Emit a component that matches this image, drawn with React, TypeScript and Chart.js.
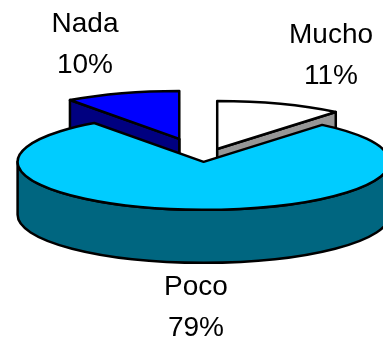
import { useEffect, useRef } from "react";
import { Chart, registerables } from "chart.js";

Chart.register(...registerables);

const categories = ["Mucho", "Poco", "Nada"];
const shares = [11, 79, 10];
const explode = [39, 13, 80];
const topColors = ["#FFFFFF", "#00CCFF", "#0000FF"];
const sideColors = ["#969696", "#006680", "#000080"];

// Canvas position of each slice's two-line caption (centre x, first baseline).
const captionSpots = [
  { x: 331, y: 43 },
  { x: 196, y: 295 },
  { x: 85, y: 32 },
];

const PIE_RADIUS = 186;
const TILT = 0.258;
const DEPTH = 53;
const OUTLINE = 2.5;
const CAPTION_FONT = '28px "Liberation Sans", Arial, sans-serif';
const CAPTION_LEADING = 41;

type Slice = {
  index: number;
  cx: number;
  cy: number;
  r: number;
  a0: number;
  a1: number;
};

// Outer wall of a wedge, limited to the part of the rim that faces the viewer.
function rimBand(ctx: CanvasRenderingContext2D, s: Slice, from: number, to: number) {
  ctx.beginPath();
  ctx.ellipse(s.cx, s.cy, s.r, s.r * TILT, 0, from, to);
  ctx.ellipse(s.cx, s.cy + DEPTH, s.r, s.r * TILT, 0, to, from, true);
  ctx.closePath();
}

function cutFace(ctx: CanvasRenderingContext2D, s: Slice, angle: number) {
  const tx = s.cx + s.r * Math.cos(angle);
  const ty = s.cy + s.r * TILT * Math.sin(angle);
  ctx.beginPath();
  ctx.moveTo(s.cx, s.cy);
  ctx.lineTo(tx, ty);
  ctx.lineTo(tx, ty + DEPTH);
  ctx.lineTo(s.cx, s.cy + DEPTH);
  ctx.closePath();
}

function topFace(ctx: CanvasRenderingContext2D, s: Slice) {
  ctx.beginPath();
  ctx.moveTo(s.cx, s.cy);
  ctx.ellipse(s.cx, s.cy, s.r, s.r * TILT, 0, s.a0, s.a1);
  ctx.closePath();
}

// Replaces the flat arcs with tilted, extruded wedges built from the arc elements.
const tiltedPie = {
  id: "tiltedPie",
  beforeDatasetDraw(chart: Chart) {
    const ctx = chart.ctx;
    const arcs = chart.getDatasetMeta(0).data as any[];
    const slices: Slice[] = arcs.map((arc, index) => {
      const mid = (arc.startAngle + arc.endAngle) / 2;
      const shift = arc.options.offset || 0;
      return {
        index,
        cx: arc.x + Math.cos(mid) * shift,
        cy: arc.y + Math.sin(mid) * shift * TILT,
        r: arc.outerRadius,
        a0: arc.startAngle,
        a1: arc.endAngle,
      };
    });
    const depthOrder = (s: Slice) => Math.sin((s.a0 + s.a1) / 2);
    slices.sort((a, b) => depthOrder(a) - depthOrder(b));

    ctx.save();
    ctx.lineWidth = OUTLINE;
    ctx.lineJoin = "round";
    ctx.strokeStyle = "#000000";
    for (const s of slices) {
      ctx.fillStyle = sideColors[s.index];
      const from = Math.max(s.a0, 0);
      const to = Math.min(s.a1, Math.PI);
      if (to > from) {
        rimBand(ctx, s, from, to);
        ctx.fill();
        ctx.stroke();
      }
      // A cut face shows only when its outward normal points toward the viewer;
      // a face seen exactly edge-on reduces to one vertical line.
      for (const [angle, normal] of [
        [s.a0, s.a0 - Math.PI / 2],
        [s.a1, s.a1 + Math.PI / 2],
      ]) {
        const facing = Math.sin(normal);
        if (facing > 1e-6) {
          cutFace(ctx, s, angle);
          ctx.fill();
          ctx.stroke();
        } else if (Math.abs(facing) <= 1e-6) {
          ctx.beginPath();
          ctx.moveTo(s.cx, s.cy);
          ctx.lineTo(s.cx, s.cy + DEPTH);
          ctx.stroke();
        }
      }
      ctx.fillStyle = topColors[s.index];
      topFace(ctx, s);
      ctx.fill();
      ctx.stroke();
    }
    ctx.restore();
    return false;
  },
  afterDraw(chart: Chart) {
    const ctx = chart.ctx;
    ctx.save();
    ctx.font = CAPTION_FONT;
    ctx.fillStyle = "#000000";
    ctx.textAlign = "center";
    ctx.textBaseline = "alphabetic";
    categories.forEach((name, i) => {
      const spot = captionSpots[i];
      ctx.fillText(name, spot.x, spot.y);
      ctx.fillText(`${shares[i]}%`, spot.x, spot.y + CAPTION_LEADING);
    });
    ctx.restore();
  },
};

export default function App() {
  const canvasRef = useRef<HTMLCanvasElement>(null);

  useEffect(() => {
    const chart = new Chart(canvasRef.current!, {
      type: "pie",
      data: {
        labels: categories,
        datasets: [
          {
            data: shares,
            backgroundColor: topColors,
            offset: explode,
            borderWidth: 0,
            radius: PIE_RADIUS,
          } as any,
        ],
      },
      options: {
        responsive: false,
        animation: false,
        layout: { padding: { left: 25, bottom: 22 } },
        plugins: {
          legend: { display: false },
          tooltip: { enabled: false },
        },
      },
      plugins: [tiltedPie as any],
    });
    return () => chart.destroy();
  }, []);

  return (
    <div style={{ position: "absolute", left: 0, top: 0, width: 383, height: 339, background: "#ffffff" }}>
      <canvas ref={canvasRef} width={383} height={339} style={{ display: "block" }} />
    </div>
  );
}
